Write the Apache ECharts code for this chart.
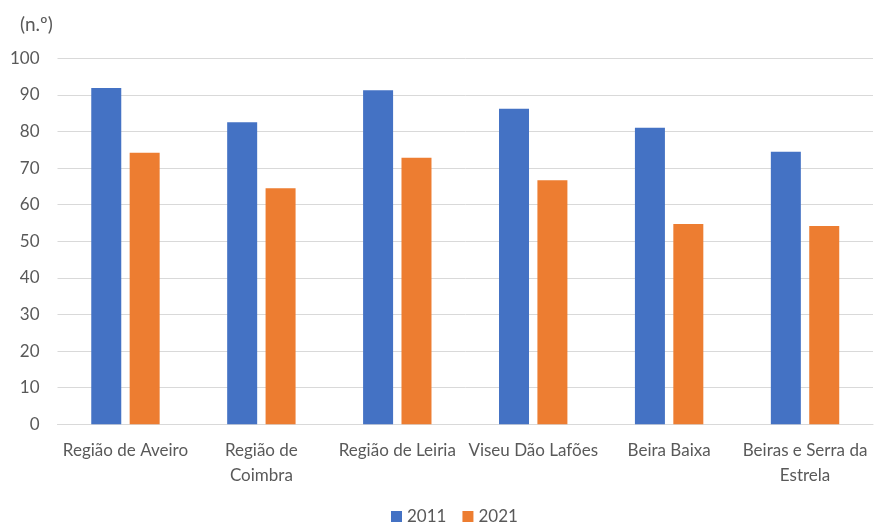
<!DOCTYPE html>
<html>
<head>
<meta charset="utf-8">
<script src="https://cdn.jsdelivr.net/npm/echarts@6/dist/echarts.min.js"></script>
<style>
  html, body { margin: 0; padding: 0; background: #fff; }
  #chart { width: 874px; height: 526px; }
</style>
</head>
<body>
<div id="chart"></div>
<script>
// Regions (NUTS III) and values per census year
const categories = ['Região de Aveiro', 'Região de Coimbra', 'Região de Leiria', 'Viseu Dão Lafões', 'Beira Baixa', 'Beiras e Serra da Estrela'];
const seriesNames = ['2011', '2021'];
const values2011 = [91.9, 82.5, 91.3, 86.2, 81.0, 74.5];
const values2021 = [74.2, 64.5, 72.8, 66.7, 54.7, 54.2];
const yTicks = { min: 0, max: 100, interval: 10 };
const unitLabel = '(n.º)';

// Two-line labels for the longer region names
const wrappedLabels = {
  'Região de Coimbra': 'Região de\nCoimbra',
  'Beiras e Serra da Estrela': 'Beiras e Serra da\nEstrela'
};

const FONT = 'Lato, "Open Sans", sans-serif';
const TEXT = '#595959';

const chart = echarts.init(document.getElementById('chart'), null, { renderer: 'canvas' });
chart.setOption({
  animation: false,
  backgroundColor: '#ffffff',
  textStyle: { fontFamily: FONT },
  title: {
    text: unitLabel,
    left: 15, top: 10,
    textStyle: { fontFamily: FONT, fontSize: 19, fontWeight: 'normal', color: TEXT }
  },
  legend: {
    data: seriesNames,
    bottom: -4,
    left: 386,
    icon: 'rect',
    itemWidth: 11, itemHeight: 11,
    itemGap: 16,
    textStyle: { fontFamily: FONT, fontSize: 17, color: TEXT }
  },
  grid: { left: 57.5, right: 1, top: 58.3, bottom: 101.7, containLabel: false },
  xAxis: {
    type: 'category',
    data: categories,
    axisLine: { lineStyle: { color: '#d9d9d9', width: 1 } },
    axisTick: { show: false },
    axisLabel: {
      interval: 0,
      color: TEXT,
      fontFamily: FONT,
      fontSize: 17,
      lineHeight: 25,
      margin: 14,
      formatter: v => wrappedLabels[v] || v
    }
  },
  yAxis: {
    type: 'value',
    min: yTicks.min, max: yTicks.max, interval: yTicks.interval,
    axisLine: { show: false },
    axisTick: { show: false },
    splitLine: { lineStyle: { color: '#d9d9d9', width: 1 } },
    axisLabel: { color: TEXT, fontFamily: FONT, fontSize: 17, margin: 18 }
  },
  series: [
    {
      name: seriesNames[0], type: 'bar', data: values2011,
      barWidth: 30, barGap: '28%',
      itemStyle: { color: '#4472c4' }
    },
    {
      name: seriesNames[1], type: 'bar', data: values2021,
      barWidth: 30,
      itemStyle: { color: '#ed7d31' }
    }
  ]
});
</script>
</body>
</html>
